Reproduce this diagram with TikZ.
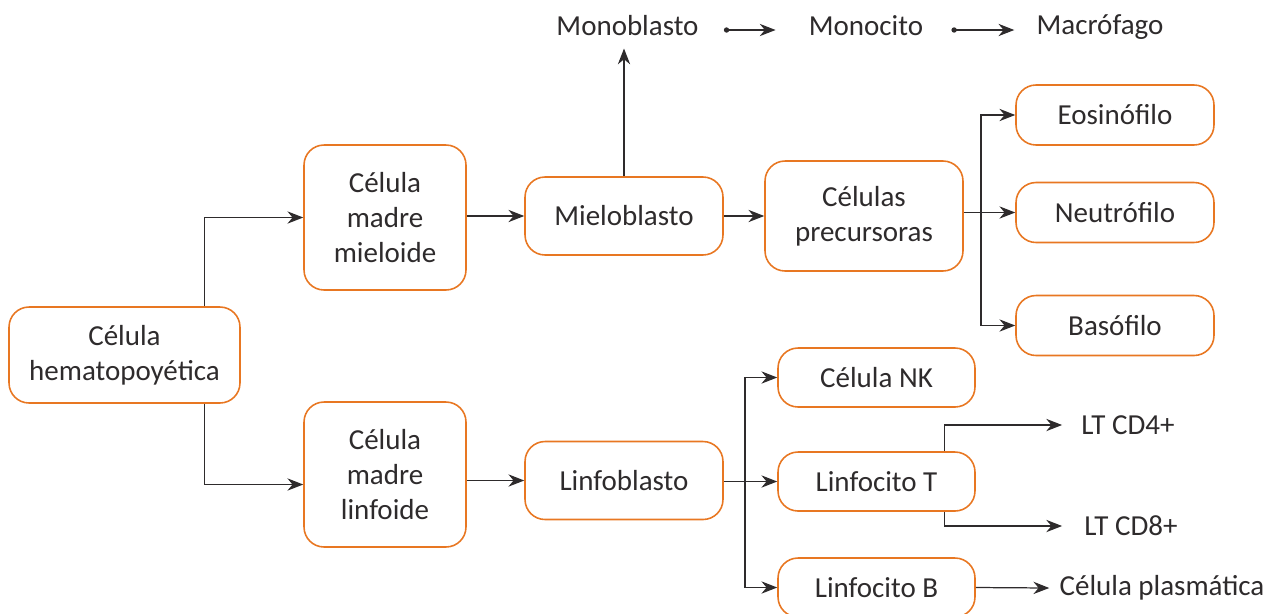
\documentclass[tikz,border=0pt]{standalone}
\usepackage{fontspec}
\setmainfont{Carlito}
\usetikzlibrary{arrows.meta}
\definecolor{naranja}{HTML}{E87722}
\definecolor{texto}{HTML}{2E2B2C}
\tikzset{
  caja/.style={draw=naranja, line width=0.9pt, rounded corners=0.4cm, align=center,
    text=texto, inner sep=0pt, font=\fontsize{16.5}{20}\selectfont},
  etiqueta/.style={text=texto, inner sep=0pt, font=\fontsize{16.5}{20}\selectfont},
  flecha/.style={-{Stealth[length=9pt,width=7pt]}, line width=0.7pt, draw=texto},
  punto/.style={{Circle[length=3pt]}-{Stealth[length=9pt,width=7pt]}, line width=0.7pt, draw=texto},
}
\begin{document}
\begin{tikzpicture}[x=0.02cm, y=-0.02cm]
  \useasboundingbox (0,0) rectangle (1266,613);
  % cajas
  \node[caja, minimum width=4.62cm, minimum height=1.92cm] (hemato) at (124.5,355) {Célula\\hematopoyética};
  \node[caja, minimum width=3.24cm, minimum height=2.9cm] (mieloide) at (385,217.5) {Célula\\madre\\mieloide};
  \node[caja, minimum width=3.24cm, minimum height=2.9cm] (linfoide) at (385,474.5) {Célula\\madre\\linfoide};
  \node[caja, minimum width=3.96cm, minimum height=1.56cm] (mieloblasto) at (624,216) {Mieloblasto};
  \node[caja, minimum width=3.96cm, minimum height=1.56cm] (linfoblasto) at (624,480.5) {Linfoblasto};
  \node[caja, minimum width=3.96cm, minimum height=2.2cm] (precursoras) at (864,216) {Células\\precursoras};
  \node[caja, minimum width=3.96cm, minimum height=1.2cm] (eosinofilo) at (1115,115) {Eosinófilo};
  \node[caja, minimum width=3.96cm, minimum height=1.2cm] (neutrofilo) at (1115,212.5) {Neutrófilo};
  \node[caja, minimum width=3.96cm, minimum height=1.2cm] (basofilo) at (1115,325.5) {Basófilo};
  \node[caja, minimum width=3.94cm, minimum height=1.18cm] (nk) at (876.5,377.5) {Célula NK};
  \node[caja, minimum width=3.94cm, minimum height=1.18cm] (linfT) at (876.5,481.5) {Linfocito T};
  \node[caja, minimum width=3.94cm, minimum height=1.18cm] (linfB) at (876.5,587.5) {Linfocito B};
  % textos sin caja
  \node[etiqueta] (monoblasto) at (627.5,26) {Monoblasto};
  \node[etiqueta] (monocito) at (866,26) {Monocito};
  \node[etiqueta] (macrofago) at (1100,27) {Macrófago};
  \node[etiqueta] (cdcuatro) at (1128,425) {LT CD4+};
  \node[etiqueta] (cdocho) at (1131,526) {LT CD8+};
  \node[etiqueta] (plasmatica) at (1162,588) {Célula plasmática};
  \coordinate (bifmie) at (981,212.5);
  \coordinate (biflin) at (745,481.5);
  % conectores
  \draw[flecha] ([xshift=-0.72cm]hemato.north east) |- (mieloide.west);
  \draw[flecha] ([xshift=-0.72cm]hemato.south east) |- ([yshift=-0.2cm]linfoide.west);
  \draw[flecha] (mieloblasto.west -| mieloide.east) -- (mieloblasto.west);
  \draw[flecha] (linfoblasto.west -| linfoide.east) -- (linfoblasto.west);
  \draw[flecha, shorten >=0.24cm] (mieloblasto.north) -- (mieloblasto.north |- monoblasto.south);
  \draw[punto, shorten <=0.5cm, shorten >=0.66cm] ([yshift=-0.08cm]monoblasto.east) -- ([yshift=-0.08cm]monoblasto.east -| monocito.west);
  \draw[punto, shorten <=0.56cm, shorten >=0.44cm] ([yshift=-0.08cm]monocito.east) -- ([yshift=-0.08cm]monocito.east -| macrofago.west);
  \draw[flecha] (mieloblasto.east) -- (precursoras.west);
  \draw[flecha] (neutrofilo.west -| precursoras.east) -- (neutrofilo.west);
  \draw[flecha] (bifmie) |- (eosinofilo.west);
  \draw[flecha] (bifmie) |- (basofilo.west);
  \draw[flecha] (linfT.west -| linfoblasto.east) -- (linfT.west);
  \draw[flecha] (biflin) |- (nk.west);
  \draw[flecha] (biflin) |- (linfB.west);
  \draw[flecha] ([xshift=-0.62cm]linfT.north east) |- ([xshift=-0.38cm]cdcuatro.west);
  \draw[flecha] ([xshift=-0.62cm]linfT.south east) |- ([xshift=-0.44cm]cdocho.west);
  \draw[flecha] (linfB.east) -- ([xshift=-0.2cm]plasmatica.west);
\end{tikzpicture}
\end{document}
